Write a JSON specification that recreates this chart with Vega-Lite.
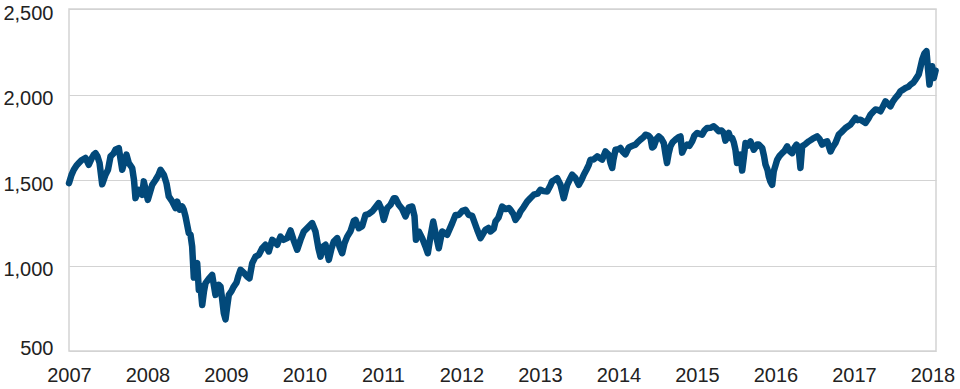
{
  "$schema": "https://vega.github.io/schema/vega-lite/v6.json",
  "width": 867,
  "height": 342,
  "autosize": "none",
  "padding": {"left": 69, "top": 9, "right": 24, "bottom": 38},
  "background": "white",
  "config": {
    "view": {"stroke": "#d3d3d3", "strokeWidth": 1.5},
    "font": "Liberation Sans"
  },
  "data": {
    "values": [
      {"year": 2007.000, "value": 1482}, {"year": 2007.032, "value": 1530}, {"year": 2007.061, "value": 1560},
      {"year": 2007.096, "value": 1585}, {"year": 2007.125, "value": 1599}, {"year": 2007.159, "value": 1615},
      {"year": 2007.210, "value": 1629}, {"year": 2007.252, "value": 1589}, {"year": 2007.287, "value": 1625},
      {"year": 2007.316, "value": 1648}, {"year": 2007.338, "value": 1657}, {"year": 2007.363, "value": 1638},
      {"year": 2007.389, "value": 1600}, {"year": 2007.423, "value": 1475}, {"year": 2007.465, "value": 1531},
      {"year": 2007.497, "value": 1560}, {"year": 2007.529, "value": 1638}, {"year": 2007.567, "value": 1655},
      {"year": 2007.592, "value": 1677}, {"year": 2007.634, "value": 1687}, {"year": 2007.678, "value": 1560},
      {"year": 2007.707, "value": 1610}, {"year": 2007.732, "value": 1648}, {"year": 2007.762, "value": 1599},
      {"year": 2007.805, "value": 1570}, {"year": 2007.828, "value": 1500}, {"year": 2007.847, "value": 1394},
      {"year": 2007.889, "value": 1443}, {"year": 2007.932, "value": 1414}, {"year": 2007.953, "value": 1492},
      {"year": 2008.004, "value": 1384}, {"year": 2008.060, "value": 1472}, {"year": 2008.102, "value": 1500},
      {"year": 2008.140, "value": 1530}, {"year": 2008.166, "value": 1560}, {"year": 2008.208, "value": 1531},
      {"year": 2008.242, "value": 1480}, {"year": 2008.271, "value": 1404}, {"year": 2008.315, "value": 1374},
      {"year": 2008.357, "value": 1336}, {"year": 2008.378, "value": 1374}, {"year": 2008.411, "value": 1326},
      {"year": 2008.442, "value": 1345}, {"year": 2008.462, "value": 1326}, {"year": 2008.484, "value": 1287},
      {"year": 2008.526, "value": 1189}, {"year": 2008.548, "value": 1180}, {"year": 2008.569, "value": 1111},
      {"year": 2008.590, "value": 930}, {"year": 2008.611, "value": 1000}, {"year": 2008.633, "value": 1014},
      {"year": 2008.654, "value": 857}, {"year": 2008.675, "value": 880}, {"year": 2008.697, "value": 769},
      {"year": 2008.720, "value": 850}, {"year": 2008.739, "value": 897}, {"year": 2008.777, "value": 920},
      {"year": 2008.824, "value": 945}, {"year": 2008.847, "value": 880}, {"year": 2008.866, "value": 828},
      {"year": 2008.908, "value": 887}, {"year": 2008.930, "value": 877}, {"year": 2008.952, "value": 800},
      {"year": 2008.972, "value": 721}, {"year": 2008.994, "value": 685}, {"year": 2009.015, "value": 760},
      {"year": 2009.036, "value": 828}, {"year": 2009.070, "value": 850}, {"year": 2009.099, "value": 877},
      {"year": 2009.134, "value": 900}, {"year": 2009.159, "value": 940}, {"year": 2009.185, "value": 975},
      {"year": 2009.223, "value": 960}, {"year": 2009.270, "value": 935}, {"year": 2009.299, "value": 925},
      {"year": 2009.334, "value": 1014}, {"year": 2009.376, "value": 1052}, {"year": 2009.418, "value": 1062},
      {"year": 2009.461, "value": 1101}, {"year": 2009.503, "value": 1121}, {"year": 2009.545, "value": 1082},
      {"year": 2009.589, "value": 1150}, {"year": 2009.618, "value": 1140}, {"year": 2009.652, "value": 1121},
      {"year": 2009.694, "value": 1169}, {"year": 2009.732, "value": 1150}, {"year": 2009.780, "value": 1160},
      {"year": 2009.822, "value": 1205}, {"year": 2009.860, "value": 1150}, {"year": 2009.907, "value": 1092},
      {"year": 2009.949, "value": 1150}, {"year": 2009.991, "value": 1199}, {"year": 2010.038, "value": 1220},
      {"year": 2010.098, "value": 1248}, {"year": 2010.140, "value": 1199}, {"year": 2010.178, "value": 1100},
      {"year": 2010.204, "value": 1052}, {"year": 2010.236, "value": 1110}, {"year": 2010.268, "value": 1121},
      {"year": 2010.310, "value": 1033}, {"year": 2010.344, "value": 1100}, {"year": 2010.373, "value": 1140},
      {"year": 2010.417, "value": 1160}, {"year": 2010.446, "value": 1110}, {"year": 2010.480, "value": 1072},
      {"year": 2010.510, "value": 1130}, {"year": 2010.544, "value": 1169}, {"year": 2010.586, "value": 1200},
      {"year": 2010.628, "value": 1260}, {"year": 2010.650, "value": 1267}, {"year": 2010.692, "value": 1218},
      {"year": 2010.735, "value": 1230}, {"year": 2010.777, "value": 1296}, {"year": 2010.815, "value": 1300},
      {"year": 2010.862, "value": 1316}, {"year": 2010.904, "value": 1340}, {"year": 2010.946, "value": 1365},
      {"year": 2010.981, "value": 1330}, {"year": 2011.010, "value": 1267}, {"year": 2011.054, "value": 1336},
      {"year": 2011.096, "value": 1355}, {"year": 2011.138, "value": 1394}, {"year": 2011.159, "value": 1394},
      {"year": 2011.201, "value": 1355}, {"year": 2011.245, "value": 1330}, {"year": 2011.287, "value": 1287},
      {"year": 2011.329, "value": 1340}, {"year": 2011.372, "value": 1345}, {"year": 2011.401, "value": 1290},
      {"year": 2011.420, "value": 1150}, {"year": 2011.456, "value": 1199}, {"year": 2011.499, "value": 1160},
      {"year": 2011.541, "value": 1111}, {"year": 2011.571, "value": 1072}, {"year": 2011.605, "value": 1169},
      {"year": 2011.640, "value": 1257}, {"year": 2011.669, "value": 1189}, {"year": 2011.711, "value": 1101},
      {"year": 2011.754, "value": 1199}, {"year": 2011.818, "value": 1180}, {"year": 2011.882, "value": 1248},
      {"year": 2011.924, "value": 1296}, {"year": 2011.966, "value": 1296}, {"year": 2012.013, "value": 1320},
      {"year": 2012.051, "value": 1326}, {"year": 2012.093, "value": 1296}, {"year": 2012.136, "value": 1290},
      {"year": 2012.200, "value": 1209}, {"year": 2012.242, "value": 1160}, {"year": 2012.280, "value": 1190},
      {"year": 2012.306, "value": 1209}, {"year": 2012.344, "value": 1220}, {"year": 2012.369, "value": 1199},
      {"year": 2012.411, "value": 1215}, {"year": 2012.433, "value": 1257}, {"year": 2012.471, "value": 1280},
      {"year": 2012.518, "value": 1345}, {"year": 2012.561, "value": 1330}, {"year": 2012.603, "value": 1336},
      {"year": 2012.624, "value": 1326}, {"year": 2012.662, "value": 1300}, {"year": 2012.688, "value": 1267},
      {"year": 2012.726, "value": 1290}, {"year": 2012.752, "value": 1316}, {"year": 2012.790, "value": 1340},
      {"year": 2012.837, "value": 1374}, {"year": 2012.879, "value": 1395}, {"year": 2012.921, "value": 1414},
      {"year": 2012.968, "value": 1420}, {"year": 2013.006, "value": 1443}, {"year": 2013.045, "value": 1435},
      {"year": 2013.092, "value": 1433}, {"year": 2013.134, "value": 1470}, {"year": 2013.155, "value": 1492},
      {"year": 2013.185, "value": 1500}, {"year": 2013.219, "value": 1511}, {"year": 2013.261, "value": 1472},
      {"year": 2013.303, "value": 1394}, {"year": 2013.347, "value": 1472}, {"year": 2013.376, "value": 1500},
      {"year": 2013.410, "value": 1531}, {"year": 2013.452, "value": 1511}, {"year": 2013.494, "value": 1472},
      {"year": 2013.529, "value": 1500}, {"year": 2013.558, "value": 1531}, {"year": 2013.592, "value": 1560},
      {"year": 2013.622, "value": 1589}, {"year": 2013.643, "value": 1619}, {"year": 2013.682, "value": 1620},
      {"year": 2013.729, "value": 1638}, {"year": 2013.758, "value": 1630}, {"year": 2013.792, "value": 1619},
      {"year": 2013.834, "value": 1667}, {"year": 2013.876, "value": 1648}, {"year": 2013.898, "value": 1600},
      {"year": 2013.920, "value": 1570}, {"year": 2013.936, "value": 1620}, {"year": 2013.962, "value": 1677},
      {"year": 2014.000, "value": 1680}, {"year": 2014.025, "value": 1687}, {"year": 2014.051, "value": 1667},
      {"year": 2014.089, "value": 1650}, {"year": 2014.131, "value": 1690}, {"year": 2014.178, "value": 1700},
      {"year": 2014.217, "value": 1707}, {"year": 2014.242, "value": 1720}, {"year": 2014.280, "value": 1736},
      {"year": 2014.318, "value": 1750}, {"year": 2014.344, "value": 1765}, {"year": 2014.382, "value": 1760},
      {"year": 2014.408, "value": 1746}, {"year": 2014.429, "value": 1690}, {"year": 2014.450, "value": 1697},
      {"year": 2014.484, "value": 1740}, {"year": 2014.513, "value": 1755}, {"year": 2014.548, "value": 1740},
      {"year": 2014.577, "value": 1716}, {"year": 2014.599, "value": 1650}, {"year": 2014.618, "value": 1599},
      {"year": 2014.637, "value": 1650}, {"year": 2014.662, "value": 1697}, {"year": 2014.688, "value": 1720},
      {"year": 2014.726, "value": 1736}, {"year": 2014.764, "value": 1750}, {"year": 2014.790, "value": 1755},
      {"year": 2014.811, "value": 1660}, {"year": 2014.841, "value": 1690}, {"year": 2014.875, "value": 1707},
      {"year": 2014.904, "value": 1700}, {"year": 2014.939, "value": 1726}, {"year": 2014.968, "value": 1760},
      {"year": 2015.003, "value": 1775}, {"year": 2015.032, "value": 1770}, {"year": 2015.066, "value": 1765},
      {"year": 2015.096, "value": 1790}, {"year": 2015.130, "value": 1804}, {"year": 2015.172, "value": 1805},
      {"year": 2015.214, "value": 1814}, {"year": 2015.248, "value": 1800}, {"year": 2015.278, "value": 1785},
      {"year": 2015.312, "value": 1790}, {"year": 2015.341, "value": 1775}, {"year": 2015.363, "value": 1730},
      {"year": 2015.389, "value": 1760}, {"year": 2015.405, "value": 1775}, {"year": 2015.427, "value": 1745},
      {"year": 2015.448, "value": 1746}, {"year": 2015.469, "value": 1720}, {"year": 2015.490, "value": 1677},
      {"year": 2015.510, "value": 1600}, {"year": 2015.529, "value": 1610}, {"year": 2015.554, "value": 1648},
      {"year": 2015.576, "value": 1555}, {"year": 2015.599, "value": 1640}, {"year": 2015.618, "value": 1716},
      {"year": 2015.643, "value": 1700}, {"year": 2015.682, "value": 1726}, {"year": 2015.724, "value": 1677},
      {"year": 2015.767, "value": 1707}, {"year": 2015.787, "value": 1707}, {"year": 2015.831, "value": 1687},
      {"year": 2015.854, "value": 1640}, {"year": 2015.873, "value": 1590}, {"year": 2015.898, "value": 1560},
      {"year": 2015.915, "value": 1520}, {"year": 2015.936, "value": 1490}, {"year": 2015.958, "value": 1472},
      {"year": 2015.978, "value": 1550}, {"year": 2016.022, "value": 1619}, {"year": 2016.051, "value": 1640},
      {"year": 2016.085, "value": 1657}, {"year": 2016.115, "value": 1670}, {"year": 2016.149, "value": 1697},
      {"year": 2016.178, "value": 1670}, {"year": 2016.213, "value": 1657}, {"year": 2016.242, "value": 1690},
      {"year": 2016.268, "value": 1707}, {"year": 2016.293, "value": 1690}, {"year": 2016.318, "value": 1570},
      {"year": 2016.340, "value": 1697}, {"year": 2016.382, "value": 1710}, {"year": 2016.424, "value": 1726},
      {"year": 2016.471, "value": 1740}, {"year": 2016.531, "value": 1755}, {"year": 2016.561, "value": 1740},
      {"year": 2016.595, "value": 1707}, {"year": 2016.624, "value": 1720}, {"year": 2016.659, "value": 1726},
      {"year": 2016.701, "value": 1667}, {"year": 2016.726, "value": 1690}, {"year": 2016.764, "value": 1716},
      {"year": 2016.806, "value": 1765}, {"year": 2016.841, "value": 1780}, {"year": 2016.892, "value": 1804},
      {"year": 2016.955, "value": 1824}, {"year": 2017.019, "value": 1863}, {"year": 2017.045, "value": 1850},
      {"year": 2017.083, "value": 1853}, {"year": 2017.108, "value": 1845}, {"year": 2017.147, "value": 1834},
      {"year": 2017.185, "value": 1860}, {"year": 2017.210, "value": 1882}, {"year": 2017.248, "value": 1900},
      {"year": 2017.274, "value": 1912}, {"year": 2017.306, "value": 1910}, {"year": 2017.338, "value": 1902},
      {"year": 2017.369, "value": 1930}, {"year": 2017.401, "value": 1960}, {"year": 2017.433, "value": 1945},
      {"year": 2017.465, "value": 1931}, {"year": 2017.497, "value": 1960}, {"year": 2017.529, "value": 1980},
      {"year": 2017.567, "value": 2000}, {"year": 2017.592, "value": 2019}, {"year": 2017.631, "value": 2030},
      {"year": 2017.656, "value": 2038}, {"year": 2017.694, "value": 2045}, {"year": 2017.720, "value": 2058},
      {"year": 2017.758, "value": 2070}, {"year": 2017.783, "value": 2087}, {"year": 2017.825, "value": 2117},
      {"year": 2017.847, "value": 2160}, {"year": 2017.869, "value": 2204}, {"year": 2017.898, "value": 2240},
      {"year": 2017.924, "value": 2253}, {"year": 2017.943, "value": 2150}, {"year": 2017.962, "value": 2058},
      {"year": 2017.981, "value": 2120}, {"year": 2017.996, "value": 2165}, {"year": 2018.017, "value": 2097},
      {"year": 2018.040, "value": 2140}
    ]
  },
  "mark": {"type": "line", "color": "#02497a", "strokeWidth": 6.5, "strokeJoin": "round", "strokeCap": "round", "clip": false},
  "encoding": {
    "x": {
      "field": "year",
      "type": "quantitative",
      "scale": {"domain": [2007, 2018.045], "nice": false, "zero": false},
      "axis": {
        "title": null,
        "values": [2007, 2008, 2009, 2010, 2011, 2012, 2013, 2014, 2015, 2016, 2017, 2018],
        "format": "d",
        "grid": false,
        "domain": false,
        "ticks": false,
        "labelFontSize": 20,
        "labelColor": "#222222",
        "labelPadding": 14,
        "labelFlush": false,
        "labelOverlap": false
      }
    },
    "y": {
      "field": "value",
      "type": "quantitative",
      "scale": {"domain": [500, 2500], "nice": false, "zero": false},
      "axis": {
        "title": null,
        "values": [500, 1000, 1500, 2000, 2500],
        "format": ",d",
        "grid": true,
        "gridColor": "#d3d3d3",
        "gridWidth": 1,
        "domain": false,
        "ticks": false,
        "labelFontSize": 20,
        "labelColor": "#222222",
        "labelPadding": 16,
        "labelOffset": {"condition": {"test": "datum.value == 500", "value": -3}, "value": 4},
        "labelFlush": false,
        "labelOverlap": false
      }
    }
  }
}
